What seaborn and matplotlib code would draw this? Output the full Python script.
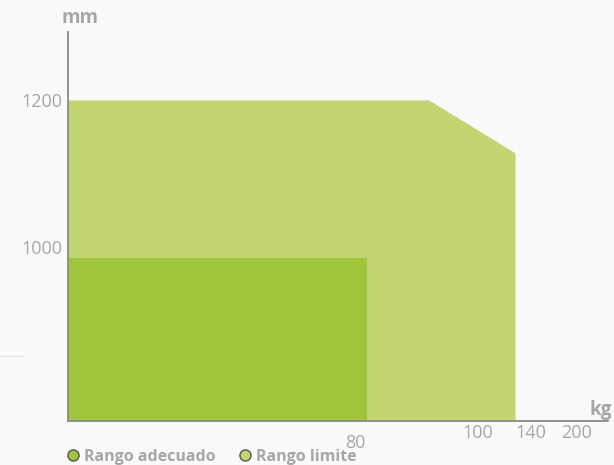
import numpy as np
import matplotlib
matplotlib.use("Agg")
import matplotlib.pyplot as plt
import seaborn as sns
from matplotlib.lines import Line2D

# data (kg on x, mm on y)
limit_kg = [0, 92, 128]
limit_mm = [1200, 1200, 1128]
ok_kg = [0, 82]
ok_mm = [985, 985]
x_ticks = [80, 100, 140, 200]
y_ticks = [1000, 1200]
legend_labels = ["Rango adecuado", "Rango limite"]

# non uniform kg axis, anchored on the tick labels
kg_anchor = np.array([0, 80, 100, 140, 200, 220.0])
pos_anchor = np.array([0, 287, 410, 463, 509, 540.0])

def fwd(x):
    return np.interp(x, kg_anchor, pos_anchor)

def inv(p):
    return np.interp(p, pos_anchor, kg_anchor)

sns.set_style("white")
plt.rcParams["font.family"] = ["Open Sans", "DejaVu Sans"]

bg = "#fafafa"
c_light = "#c2d570"
c_dark = "#a0c43c"
grey = "#a6a6a6"

fig = plt.figure(figsize=(6.14, 4.65), dpi=100, facecolor=bg)
ax = fig.add_axes([68 / 614, 44 / 465, 540 / 614, 389 / 465])
ax.set_facecolor(bg)
ax.set_xscale("function", functions=(fwd, inv))
ax.set_xlim(0, 220)
ax.set_ylim(763, 1292.5)

ax.fill_between(limit_kg, limit_mm, 763, color=c_light, lw=0)
ax.fill_between(ok_kg, ok_mm, 763, color=c_dark, lw=0)

sns.despine(ax=ax)
for s in ["left", "bottom"]:
    ax.spines[s].set_color("#8a8a8a")
    ax.spines[s].set_linewidth(1.3)

ax.set_xticks(x_ticks)
ax.set_xticklabels([str(v) for v in x_ticks])
ax.set_yticks(y_ticks)
ax.set_yticklabels([str(v) for v in y_ticks])
ax.tick_params(length=0, labelsize=13, colors=grey, pad=2)
ax.xaxis.get_major_ticks()[0].set_pad(9)
ax.tick_params(axis="y", pad=4)

fig.text(80 / 614, 1 - 18 / 465, "mm", ha="center", va="center",
         fontsize=13.5, fontweight="bold", color=grey)
fig.text(601 / 614, 1 - 410 / 465, "kg", ha="center", va="center",
         fontsize=13.5, fontweight="bold", color=grey)

# faint rule on the left
fig.add_artist(Line2D([0, 23 / 614], [1 - 356 / 465, 1 - 356 / 465],
                      color="#e2e2e2", lw=1))

# legend
for xm, xt, lab, col in [(73, 84, legend_labels[0], c_dark),
                         (245, 256, legend_labels[1], c_light)]:
    fig.add_artist(Line2D([xm / 614], [1 - 455 / 465], marker="o",
                          markersize=8, markerfacecolor=col,
                          markeredgecolor="#555555", markeredgewidth=1,
                          linestyle=""))
    fig.text(xt / 614, 1 - 457 / 465, lab, ha="left", va="center",
             fontsize=11.5, fontweight="bold", color=grey)

fig.savefig("out.png", dpi=100, facecolor=bg)
